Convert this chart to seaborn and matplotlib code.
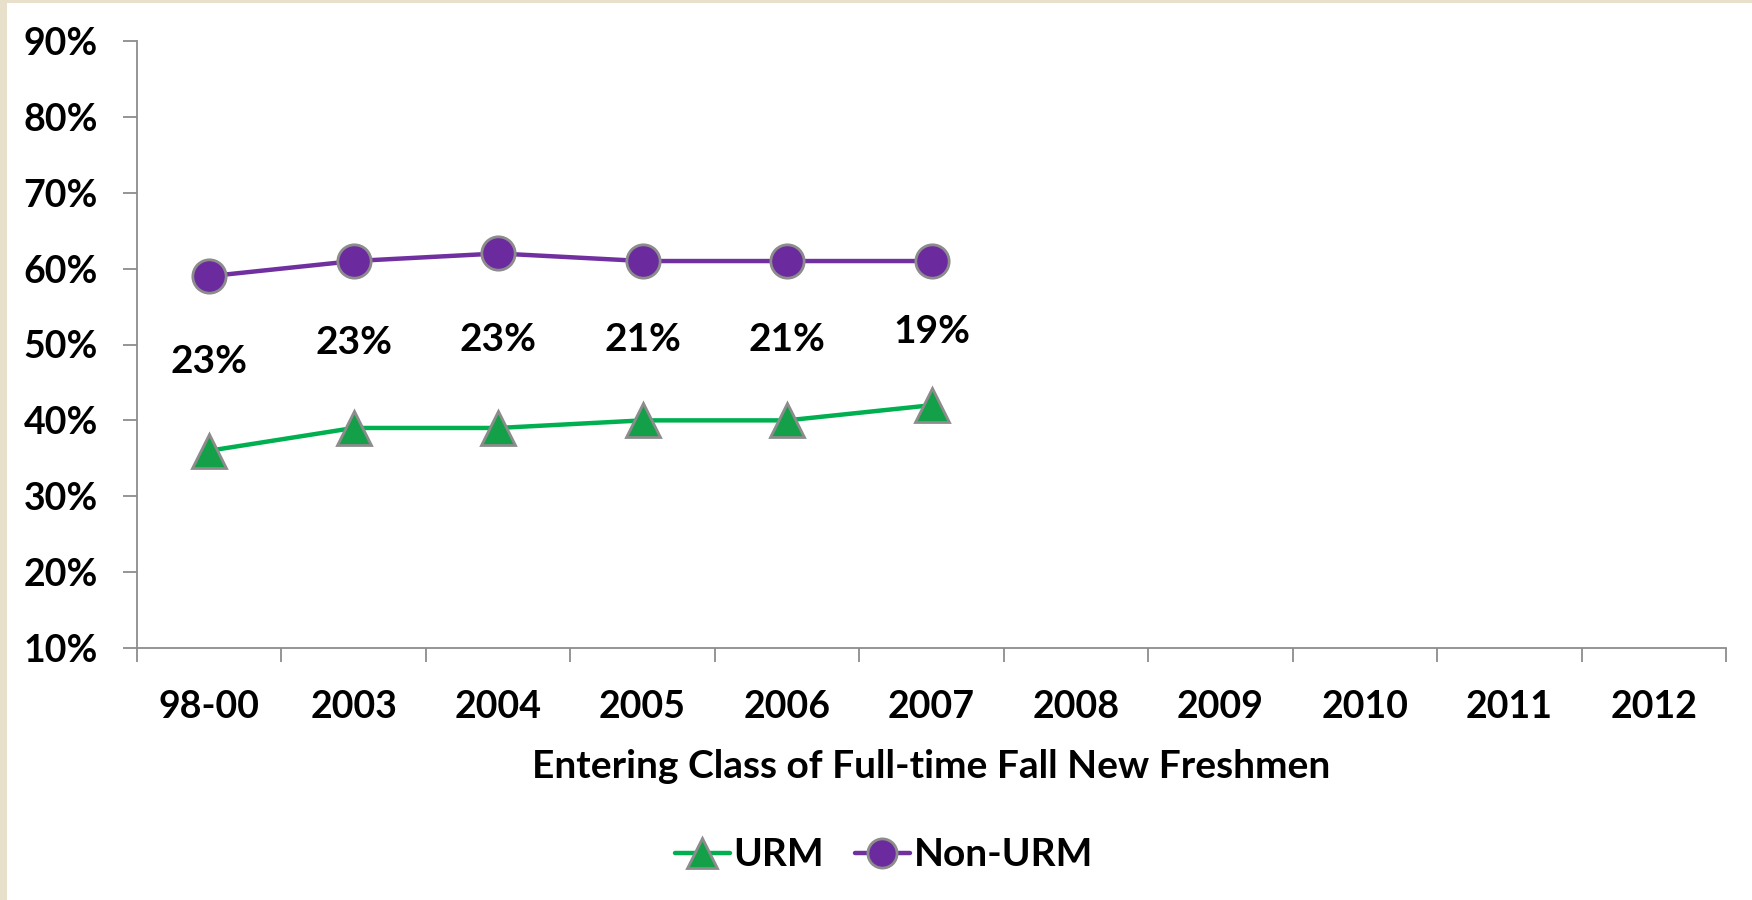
import matplotlib
matplotlib.use("Agg")
import matplotlib.pyplot as plt
import seaborn as sns
import pandas as pd
from matplotlib.patches import Rectangle
from matplotlib.lines import Line2D

categories = ["98-00", "2003", "2004", "2005", "2006", "2007",
              "2008", "2009", "2010", "2011", "2012"]
years_with_data = ["98-00", "2003", "2004", "2005", "2006", "2007"]
urm = [36, 39, 39, 40, 40, 42]
non_urm = [59, 61, 62, 61, 61, 61]
gap_labels = ["23%", "23%", "23%", "21%", "21%", "19%"]
y_ticks = [10, 20, 30, 40, 50, 60, 70, 80, 90]
x_title = "Entering Class of Full-time Fall New Freshmen"

sns.set_theme(style="white")
plt.rcParams["font.family"] = ["Lato", "DejaVu Sans"]
plt.rcParams["text.color"] = "black"

fig = plt.figure(figsize=(17.52, 9.0), dpi=100, facecolor="#E8E0CB")
bg = Rectangle((7 / 1752, 0), 1, 1 - 3 / 900, transform=fig.transFigure,
               facecolor="white", edgecolor="none", zorder=-10)
fig.patches.append(bg)
ax = fig.add_axes([137 / 1752, 1 - 648 / 900, (1726 - 137) / 1752, (648 - 41) / 900])
ax.set_zorder(2)
ax.set_facecolor("white")

pos = [categories.index(c) for c in years_with_data]
df = pd.DataFrame({"x": pos, "URM": urm, "Non-URM": non_urm})

green_line = "#00B050"
green_fill = "#13A049"
purple_line = "#7030A0"
purple_fill = "#6B2A9E"
edge = "#8C8C8C"

sns.lineplot(data=df, x="x", y="URM", ax=ax, color=green_line, linewidth=3.2,
             marker="^", markersize=25, markerfacecolor=green_fill,
             markeredgecolor=edge, markeredgewidth=2, zorder=3)
sns.lineplot(data=df, x="x", y="Non-URM", ax=ax, color=purple_line, linewidth=3.2,
             marker="o", markersize=24, markerfacecolor=purple_fill,
             markeredgecolor=edge, markeredgewidth=2, zorder=3)

for p, u, n, lab in zip(pos, urm, non_urm, gap_labels):
    ax.text(p, (u + n) / 2 + 0.2, lab, ha="center", va="center",
            fontsize=28, fontweight="bold", color="black")

ax.set_xlim(-0.5, len(categories) - 0.5)
ax.set_ylim(10, 90)
ax.set_yticks(y_ticks)
ax.set_yticklabels([f"{v}%" for v in y_ticks])
ax.set_xticks(range(len(categories)))
ax.set_xticklabels(categories)
ax.set_xticks([i - 0.5 for i in range(len(categories) + 1)], minor=True)

ax.tick_params(axis="y", which="major", left=True, length=10, width=1.3, color="#8C8C8C",
               pad=18, labelsize=27, labelcolor="black")
ax.tick_params(axis="x", which="major", bottom=False, length=0, pad=30, labelsize=27,
               labelcolor="black")
ax.tick_params(axis="x", which="minor", bottom=True, length=10, width=1.3, color="#8C8C8C",
               direction="out")
for lab in ax.get_xticklabels() + ax.get_yticklabels():
    lab.set_fontweight("bold")

for s in ["top", "right"]:
    ax.spines[s].set_visible(False)
for s in ["left", "bottom"]:
    ax.spines[s].set_color("#8C8C8C")
    ax.spines[s].set_linewidth(1.3)

ax.set_xlabel(x_title, fontsize=28, fontweight="bold", color="black", labelpad=18)
ax.set_ylabel("")

handles = [
    Line2D([0], [0], color=green_line, linewidth=3.2, marker="^", markersize=21,
           markerfacecolor=green_fill, markeredgecolor=edge, markeredgewidth=2),
    Line2D([0], [0], color=purple_line, linewidth=3.2, marker="o", markersize=21,
           markerfacecolor=purple_fill, markeredgecolor=edge, markeredgewidth=2),
]
leg = fig.legend(handles, ["URM", "Non-URM"], loc="center", bbox_to_anchor=(884 / 1752, 1 - 855 / 900),
                 ncol=2, frameon=False, handlelength=1.4, handletextpad=0.1, columnspacing=0.8,
                 prop={"size": 28, "weight": "bold"})
for t in leg.get_texts():
    t.set_color("black")

fig.savefig("out.png", dpi=100, facecolor=fig.get_facecolor())
